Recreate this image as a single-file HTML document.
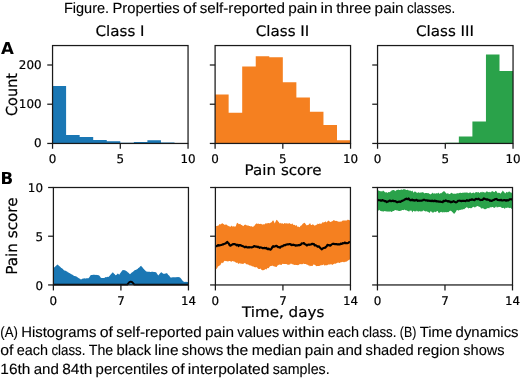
<!DOCTYPE html>
<html><head><meta charset="utf-8"><title>Figure</title>
<style>html,body{margin:0;padding:0;background:#fff}svg{display:block}text{text-rendering:geometricPrecision}</style></head>
<body>
<svg width="520" height="379" viewBox="0 0 520 379">
<rect width="520" height="379" fill="#fff"/>
<path d="M52.55,143.45 L52.55,85.99 L66.10,85.99 L66.10,135.02 L79.65,135.02 L79.65,136.98 L93.20,136.98 L93.20,140.12 L106.75,140.12 L106.75,141.29 L120.30,141.29 L120.30,142.67 L133.85,142.67 L133.85,142.08 L147.40,142.08 L147.40,140.31 L160.95,140.31 L160.95,142.47 L174.50,142.47 L174.50,143.33 L188.05,143.33 L188.05,143.45 Z" fill="#1a77b4"/>
<rect x="52.55" y="45.55" width="135.50" height="97.90" fill="none" stroke="#1a1a1a" stroke-width="1.25"/>
<line x1="52.55" y1="143.45" x2="52.55" y2="148.75" stroke="#1a1a1a" stroke-width="1.25"/>
<text x="52.55" y="162.95" font-family="DejaVu Sans, sans-serif" stroke="#000" stroke-width="0.2" font-size="11.9" text-anchor="middle" fill="#000">0</text>
<line x1="120.30" y1="143.45" x2="120.30" y2="148.75" stroke="#1a1a1a" stroke-width="1.25"/>
<text x="120.30" y="162.95" font-family="DejaVu Sans, sans-serif" stroke="#000" stroke-width="0.2" font-size="11.9" text-anchor="middle" fill="#000">5</text>
<line x1="188.05" y1="143.45" x2="188.05" y2="148.75" stroke="#1a1a1a" stroke-width="1.25"/>
<text x="188.05" y="162.95" font-family="DejaVu Sans, sans-serif" stroke="#000" stroke-width="0.2" font-size="11.9" text-anchor="middle" fill="#000">10</text>
<line x1="47.25" y1="143.45" x2="52.55" y2="143.45" stroke="#1a1a1a" stroke-width="1.25"/>
<text x="41.55" y="147.35" font-family="DejaVu Sans, sans-serif" stroke="#000" stroke-width="0.2" font-size="11.9" text-anchor="end" fill="#000">0</text>
<line x1="47.25" y1="104.22" x2="52.55" y2="104.22" stroke="#1a1a1a" stroke-width="1.25"/>
<text x="41.55" y="108.12" font-family="DejaVu Sans, sans-serif" stroke="#000" stroke-width="0.2" font-size="11.9" text-anchor="end" fill="#000">100</text>
<line x1="47.25" y1="65.00" x2="52.55" y2="65.00" stroke="#1a1a1a" stroke-width="1.25"/>
<text x="41.55" y="68.90" font-family="DejaVu Sans, sans-serif" stroke="#000" stroke-width="0.2" font-size="11.9" text-anchor="end" fill="#000">200</text>
<text transform="translate(120.00,36.4) scale(1.043,1)" font-family="DejaVu Sans, sans-serif" stroke="#000" stroke-width="0.2" font-size="14.5" text-anchor="middle" fill="#000">Class I</text>
<path d="M215.10,143.45 L215.10,94.61 L228.64,94.61 L228.64,112.66 L242.19,112.66 L242.19,66.57 L255.74,66.57 L255.74,56.37 L269.28,56.37 L269.28,57.16 L282.82,57.16 L282.82,82.26 L296.37,82.26 L296.37,97.56 L309.92,97.56 L309.92,111.68 L323.46,111.68 L323.46,125.01 L337.00,125.01 L337.00,140.31 L350.55,140.31 L350.55,143.45 Z" fill="#f58020"/>
<rect x="215.10" y="45.55" width="135.45" height="97.90" fill="none" stroke="#1a1a1a" stroke-width="1.25"/>
<line x1="215.10" y1="143.45" x2="215.10" y2="148.75" stroke="#1a1a1a" stroke-width="1.25"/>
<text x="215.10" y="162.95" font-family="DejaVu Sans, sans-serif" stroke="#000" stroke-width="0.2" font-size="11.9" text-anchor="middle" fill="#000">0</text>
<line x1="282.82" y1="143.45" x2="282.82" y2="148.75" stroke="#1a1a1a" stroke-width="1.25"/>
<text x="282.82" y="162.95" font-family="DejaVu Sans, sans-serif" stroke="#000" stroke-width="0.2" font-size="11.9" text-anchor="middle" fill="#000">5</text>
<line x1="350.55" y1="143.45" x2="350.55" y2="148.75" stroke="#1a1a1a" stroke-width="1.25"/>
<text x="350.55" y="162.95" font-family="DejaVu Sans, sans-serif" stroke="#000" stroke-width="0.2" font-size="11.9" text-anchor="middle" fill="#000">10</text>
<line x1="209.80" y1="143.45" x2="215.10" y2="143.45" stroke="#1a1a1a" stroke-width="1.25"/>
<line x1="209.80" y1="104.22" x2="215.10" y2="104.22" stroke="#1a1a1a" stroke-width="1.25"/>
<line x1="209.80" y1="65.00" x2="215.10" y2="65.00" stroke="#1a1a1a" stroke-width="1.25"/>
<text transform="translate(282.52,36.4) scale(1.043,1)" font-family="DejaVu Sans, sans-serif" stroke="#000" stroke-width="0.2" font-size="14.5" text-anchor="middle" fill="#000">Class II</text>
<path d="M377.55,143.45 L377.55,143.45 L391.10,143.45 L391.10,143.45 L404.65,143.45 L404.65,143.45 L418.20,143.45 L418.20,143.45 L431.75,143.45 L431.75,143.45 L445.30,143.45 L445.30,142.67 L458.85,142.67 L458.85,136.39 L472.40,136.39 L472.40,121.48 L485.95,121.48 L485.95,54.61 L499.50,54.61 L499.50,70.88 L513.05,70.88 L513.05,143.45 Z" fill="#2aa24a"/>
<rect x="377.55" y="45.55" width="135.50" height="97.90" fill="none" stroke="#1a1a1a" stroke-width="1.25"/>
<line x1="377.55" y1="143.45" x2="377.55" y2="148.75" stroke="#1a1a1a" stroke-width="1.25"/>
<text x="377.55" y="162.95" font-family="DejaVu Sans, sans-serif" stroke="#000" stroke-width="0.2" font-size="11.9" text-anchor="middle" fill="#000">0</text>
<line x1="445.30" y1="143.45" x2="445.30" y2="148.75" stroke="#1a1a1a" stroke-width="1.25"/>
<text x="445.30" y="162.95" font-family="DejaVu Sans, sans-serif" stroke="#000" stroke-width="0.2" font-size="11.9" text-anchor="middle" fill="#000">5</text>
<line x1="513.05" y1="143.45" x2="513.05" y2="148.75" stroke="#1a1a1a" stroke-width="1.25"/>
<text x="513.05" y="162.95" font-family="DejaVu Sans, sans-serif" stroke="#000" stroke-width="0.2" font-size="11.9" text-anchor="middle" fill="#000">10</text>
<line x1="372.25" y1="143.45" x2="377.55" y2="143.45" stroke="#1a1a1a" stroke-width="1.25"/>
<line x1="372.25" y1="104.22" x2="377.55" y2="104.22" stroke="#1a1a1a" stroke-width="1.25"/>
<line x1="372.25" y1="65.00" x2="377.55" y2="65.00" stroke="#1a1a1a" stroke-width="1.25"/>
<text transform="translate(445.00,36.4) scale(1.043,1)" font-family="DejaVu Sans, sans-serif" stroke="#000" stroke-width="0.2" font-size="14.5" text-anchor="middle" fill="#000">Class III</text>
<path d="M53.4,268.1 L54.1,267.6 L54.8,266.9 L55.5,266.3 L56.3,265.5 L57.0,265.0 L57.7,264.6 L58.4,265.3 L59.1,266.0 L59.9,266.6 L60.6,267.3 L61.3,267.9 L62.0,268.2 L62.8,269.1 L63.5,269.8 L64.2,270.5 L64.9,270.6 L65.6,270.8 L66.3,271.2 L67.1,271.6 L67.8,272.2 L68.5,272.6 L69.2,273.0 L69.9,273.3 L70.6,273.7 L71.3,274.2 L72.1,274.4 L72.8,275.1 L73.5,275.4 L74.2,275.9 L74.9,276.0 L75.6,276.2 L76.4,276.6 L77.1,277.0 L77.8,277.5 L78.5,277.9 L79.3,278.4 L80.0,278.8 L80.8,279.4 L81.6,279.3 L82.3,278.8 L83.1,278.5 L83.8,278.6 L84.4,278.3 L85.1,278.4 L85.8,278.6 L86.5,278.2 L87.2,278.3 L87.8,278.3 L88.5,278.2 L89.3,277.3 L90.0,276.2 L90.8,275.0 L91.5,275.0 L92.3,274.9 L93.0,274.8 L93.8,274.7 L94.5,274.8 L95.3,274.9 L96.0,274.8 L96.7,275.1 L97.4,275.1 L98.2,275.2 L98.9,275.3 L99.6,275.9 L100.2,276.7 L100.8,277.7 L101.5,278.1 L102.2,277.9 L102.9,278.0 L103.6,278.1 L104.3,278.0 L105.0,277.5 L105.7,277.1 L106.4,277.2 L107.1,277.1 L107.8,276.8 L108.5,277.0 L109.2,276.3 L109.9,275.4 L110.7,274.5 L111.4,273.7 L112.1,273.1 L112.8,272.2 L113.5,272.9 L114.1,273.8 L114.8,274.3 L115.4,275.3 L116.2,274.9 L116.9,274.5 L117.7,273.6 L118.5,274.1 L119.2,274.7 L120.0,273.4 L120.8,272.4 L121.5,271.5 L122.3,270.2 L123.0,270.3 L123.8,270.0 L124.6,270.2 L125.4,270.6 L126.2,270.9 L127.0,271.6 L127.7,272.3 L128.5,272.8 L129.2,273.4 L130.0,274.2 L130.8,273.5 L131.5,272.7 L132.3,272.2 L133.0,271.7 L133.8,270.9 L134.6,270.3 L135.4,270.1 L136.2,269.8 L136.9,269.2 L137.6,268.9 L138.3,268.1 L139.0,267.7 L139.7,266.9 L140.4,266.2 L141.1,265.8 L141.8,266.8 L142.6,267.6 L143.3,268.4 L144.0,269.2 L144.7,270.0 L145.5,270.8 L146.2,271.5 L146.9,271.6 L147.6,271.7 L148.2,271.7 L148.9,271.8 L149.6,271.8 L150.3,272.1 L150.9,272.0 L151.6,271.8 L152.3,271.7 L153.0,271.8 L153.7,271.9 L154.3,271.9 L155.0,271.9 L155.7,272.2 L156.3,272.6 L156.9,273.4 L157.6,274.5 L158.2,275.5 L158.9,274.7 L159.7,273.8 L160.4,273.1 L161.2,272.3 L161.8,272.6 L162.5,273.3 L163.2,273.6 L163.8,273.9 L164.6,273.7 L165.4,273.6 L166.1,273.6 L166.9,273.1 L167.6,274.0 L168.3,275.0 L169.1,275.6 L169.8,276.4 L170.5,277.4 L171.2,277.5 L171.9,277.6 L172.5,277.2 L173.2,277.2 L173.9,277.2 L174.6,277.3 L175.2,277.5 L175.9,277.0 L176.6,277.3 L177.3,277.1 L178.0,277.3 L178.6,277.1 L179.3,277.2 L180.0,277.4 L180.7,278.2 L181.4,279.0 L182.0,280.0 L182.7,280.8 L183.4,281.5 L184.1,281.8 L184.7,281.9 L185.4,281.7 L186.0,282.1 L186.7,281.8 L187.3,281.9 L188.0,281.9 L188.4,284.9 L53.4,284.9 Z" fill="#1a77b4"/>
<polyline points="53.4,284.6 127.3,284.6 128.3,283.4 129.4,282.2 130.6,281.7 131.9,282.0 133.1,283.1 134.3,284.6 188.4,284.6" fill="none" stroke="#000" stroke-width="1.9" stroke-linejoin="round"/>
<rect x="53.40" y="187.50" width="135.05" height="97.45" fill="none" stroke="#1a1a1a" stroke-width="1.25"/>
<line x1="53.40" y1="284.95" x2="53.40" y2="290.45" stroke="#1a1a1a" stroke-width="1.25"/>
<text x="53.40" y="305.10" font-family="DejaVu Sans, sans-serif" stroke="#000" stroke-width="0.2" font-size="11.9" text-anchor="middle" fill="#000">0</text>
<line x1="120.92" y1="284.95" x2="120.92" y2="290.45" stroke="#1a1a1a" stroke-width="1.25"/>
<text x="120.92" y="305.10" font-family="DejaVu Sans, sans-serif" stroke="#000" stroke-width="0.2" font-size="11.9" text-anchor="middle" fill="#000">7</text>
<line x1="188.45" y1="284.95" x2="188.45" y2="290.45" stroke="#1a1a1a" stroke-width="1.25"/>
<text x="188.45" y="305.10" font-family="DejaVu Sans, sans-serif" stroke="#000" stroke-width="0.2" font-size="11.9" text-anchor="middle" fill="#000">14</text>
<line x1="48.10" y1="284.95" x2="53.40" y2="284.95" stroke="#1a1a1a" stroke-width="1.25"/>
<text x="43.00" y="289.55" font-family="DejaVu Sans, sans-serif" stroke="#000" stroke-width="0.2" font-size="11.9" text-anchor="end" fill="#000">0</text>
<line x1="48.10" y1="236.22" x2="53.40" y2="236.22" stroke="#1a1a1a" stroke-width="1.25"/>
<text x="43.00" y="240.82" font-family="DejaVu Sans, sans-serif" stroke="#000" stroke-width="0.2" font-size="11.9" text-anchor="end" fill="#000">5</text>
<line x1="48.10" y1="187.50" x2="53.40" y2="187.50" stroke="#1a1a1a" stroke-width="1.25"/>
<text x="43.00" y="192.10" font-family="DejaVu Sans, sans-serif" stroke="#000" stroke-width="0.2" font-size="11.9" text-anchor="end" fill="#000">10</text>
<path d="M216.1,225.9 L216.8,226.0 L217.5,225.7 L218.3,225.7 L219.0,224.7 L219.7,224.0 L220.4,224.5 L221.1,224.0 L221.8,223.6 L222.6,223.2 L223.3,224.0 L224.0,224.2 L224.7,225.0 L225.4,224.5 L226.1,224.7 L226.7,224.5 L227.4,225.3 L228.1,226.3 L228.8,225.8 L229.5,226.6 L230.2,226.8 L230.9,226.4 L231.6,225.5 L232.3,226.5 L233.0,226.4 L233.7,226.2 L234.4,226.6 L235.1,226.8 L235.9,225.9 L236.7,223.6 L237.5,222.7 L238.2,223.6 L238.9,224.2 L239.6,224.0 L240.2,223.8 L240.9,224.7 L241.6,225.0 L242.3,225.3 L243.0,226.3 L243.7,225.8 L244.4,224.7 L245.0,224.9 L245.7,224.4 L246.4,225.3 L247.1,225.6 L247.8,225.4 L248.4,225.5 L249.1,226.0 L249.8,225.9 L250.5,226.4 L251.1,226.1 L251.8,226.4 L252.5,226.8 L253.2,226.9 L253.9,225.8 L254.6,225.8 L255.2,224.4 L255.9,224.0 L256.6,223.2 L257.3,224.1 L258.0,223.6 L258.7,223.8 L259.4,223.9 L260.1,223.9 L260.8,223.7 L261.5,223.9 L262.2,224.7 L262.9,224.3 L263.5,224.3 L264.2,224.5 L264.9,224.1 L265.6,223.3 L266.3,223.2 L267.0,223.8 L267.7,222.9 L268.4,222.9 L269.1,223.3 L269.7,223.2 L270.4,222.7 L271.1,222.6 L271.8,222.1 L272.4,221.1 L273.1,220.2 L273.9,221.5 L274.7,223.5 L275.3,222.2 L276.0,220.8 L276.6,219.7 L277.3,220.2 L278.1,221.5 L278.8,222.1 L279.5,223.6 L280.2,222.7 L280.9,223.5 L281.6,223.5 L282.2,222.9 L282.9,223.8 L283.6,223.9 L284.3,223.1 L285.0,223.3 L285.8,223.6 L286.5,223.3 L287.2,223.6 L288.0,223.6 L288.8,223.5 L289.5,223.1 L290.2,223.8 L290.9,224.0 L291.5,224.2 L292.2,223.2 L292.9,224.2 L293.6,225.0 L294.2,224.9 L294.9,224.8 L295.6,226.0 L296.3,225.1 L297.0,225.8 L297.6,227.1 L298.3,226.5 L299.0,227.0 L299.7,227.2 L300.4,226.1 L301.1,225.6 L301.8,225.2 L302.5,224.0 L303.2,223.4 L303.9,223.0 L304.6,222.8 L305.4,223.8 L306.1,224.7 L306.9,225.4 L307.5,224.9 L308.2,225.1 L308.8,224.6 L309.5,223.7 L310.1,223.0 L310.8,224.7 L311.4,225.0 L312.1,225.1 L312.8,223.9 L313.4,224.7 L314.1,225.3 L314.8,225.7 L315.5,225.3 L316.2,224.8 L317.0,224.7 L317.7,223.4 L318.4,224.0 L319.1,223.9 L319.8,223.3 L320.5,223.7 L321.2,224.1 L322.0,222.8 L322.7,222.3 L323.4,222.4 L324.1,222.3 L324.8,221.9 L325.5,221.3 L326.2,222.3 L327.0,222.2 L327.7,221.1 L328.4,220.4 L329.1,221.2 L329.8,221.5 L330.5,222.1 L331.2,221.9 L331.9,221.1 L332.6,221.2 L333.3,220.2 L334.0,220.3 L334.6,220.6 L335.3,221.1 L336.0,220.8 L336.7,221.0 L337.4,221.3 L338.1,221.5 L338.8,221.7 L339.5,221.7 L340.2,221.4 L340.9,221.7 L341.6,221.4 L342.3,220.8 L343.0,220.5 L343.7,220.6 L344.4,220.5 L345.1,220.6 L345.8,220.5 L346.5,220.4 L347.2,220.2 L347.9,219.6 L348.6,219.9 L349.3,220.3 L350.0,220.2 L350.0,260.3 L349.3,259.3 L348.6,260.3 L347.9,260.5 L347.2,261.3 L346.5,261.4 L345.8,262.1 L345.1,261.4 L344.4,262.2 L343.7,262.2 L343.0,261.8 L342.3,261.9 L341.6,262.3 L340.9,262.0 L340.2,262.7 L339.5,263.1 L338.8,262.7 L338.1,262.4 L337.4,262.8 L336.7,263.3 L336.0,263.2 L335.3,263.9 L334.6,263.4 L333.9,264.0 L333.1,264.3 L332.4,264.9 L331.7,264.6 L331.0,263.9 L330.3,264.6 L329.6,264.6 L328.9,264.5 L328.2,264.4 L327.5,265.1 L326.8,265.4 L326.1,265.0 L325.4,265.2 L324.7,265.8 L324.0,264.8 L323.3,264.6 L322.6,265.3 L321.9,264.7 L321.2,265.4 L320.5,265.3 L319.8,265.8 L319.1,266.0 L318.4,266.0 L317.6,266.1 L316.9,265.9 L316.2,266.3 L315.5,265.3 L314.8,265.0 L314.1,264.6 L313.4,264.6 L312.7,266.1 L312.0,265.8 L311.3,266.1 L310.6,265.8 L309.9,266.4 L309.2,265.3 L308.5,265.6 L307.8,265.1 L307.1,264.6 L306.4,264.4 L305.7,263.9 L305.0,264.0 L304.3,263.9 L303.6,263.5 L302.9,263.9 L302.2,264.2 L301.5,264.3 L300.8,264.1 L300.1,264.2 L299.4,264.3 L298.6,264.9 L297.9,265.2 L297.2,265.1 L296.5,264.9 L295.8,265.0 L295.1,264.7 L294.4,265.1 L293.6,264.8 L292.9,264.1 L292.2,264.4 L291.5,263.8 L290.8,263.5 L290.0,264.6 L289.3,264.5 L288.6,264.7 L287.9,264.7 L287.2,264.5 L286.4,263.9 L285.7,264.1 L285.0,263.9 L284.3,264.0 L283.6,264.0 L282.9,263.7 L282.2,264.1 L281.6,265.0 L280.9,264.8 L280.2,264.7 L279.5,264.5 L278.8,264.8 L278.0,265.3 L277.3,265.7 L276.6,266.9 L275.9,266.9 L275.1,266.6 L274.4,266.5 L273.7,266.2 L273.0,266.0 L272.2,265.6 L271.5,266.0 L270.8,266.1 L270.1,266.3 L269.4,267.1 L268.7,268.3 L267.9,268.1 L267.2,268.2 L266.5,269.5 L265.8,269.3 L265.1,268.9 L264.4,270.0 L263.7,270.0 L262.9,270.5 L262.2,270.1 L261.5,269.9 L260.8,268.6 L260.0,269.1 L259.3,269.0 L258.6,268.9 L257.9,268.4 L257.1,267.5 L256.4,267.1 L255.7,267.6 L255.0,267.0 L254.3,267.2 L253.5,266.6 L252.8,266.3 L252.1,266.5 L251.4,265.8 L250.7,265.6 L250.0,265.4 L249.2,265.2 L248.5,264.8 L247.8,264.2 L247.1,264.4 L246.4,264.2 L245.7,263.6 L245.0,263.3 L244.3,263.0 L243.6,263.7 L242.9,263.9 L242.2,263.7 L241.6,263.5 L240.9,264.2 L240.2,263.1 L239.5,263.2 L238.8,263.8 L238.1,263.7 L237.4,262.6 L236.7,262.9 L236.0,262.5 L235.3,262.3 L234.6,261.6 L233.9,261.7 L233.1,261.1 L232.4,261.0 L231.7,261.7 L231.0,261.5 L230.3,261.3 L229.6,260.9 L228.9,261.0 L228.2,261.4 L227.6,261.6 L226.9,261.1 L226.2,261.3 L225.5,261.1 L224.8,260.7 L224.1,261.3 L223.4,262.4 L222.7,263.2 L222.1,262.5 L221.4,262.9 L220.7,264.4 L220.0,265.4 L219.3,265.4 L218.7,266.2 L218.0,266.3 L217.4,267.7 L216.7,268.8 L216.1,269.2 Z" fill="#f58020"/>
<polyline points="216.1,246.9 216.8,246.1 217.5,245.4 218.3,245.0 219.0,245.6 219.7,245.3 220.4,245.2 221.1,245.0 221.8,244.9 222.6,244.4 223.3,244.4 224.0,243.9 224.6,243.7 225.3,243.5 225.9,243.2 226.6,242.6 227.2,241.9 228.0,242.8 228.8,243.5 229.5,244.9 230.3,245.7 231.0,245.3 231.7,244.8 232.4,244.5 233.0,244.1 233.7,244.0 234.4,244.1 235.1,244.2 235.8,244.5 236.5,245.3 237.2,244.8 237.9,244.9 238.6,246.0 239.3,245.0 240.0,245.0 240.7,245.4 241.4,245.6 242.1,246.0 242.8,246.1 243.5,246.5 244.2,246.8 245.0,247.3 245.7,246.7 246.4,246.9 247.1,247.4 247.8,247.5 248.5,247.2 249.2,247.5 249.9,247.2 250.6,247.3 251.3,247.4 252.0,247.2 252.7,247.1 253.4,246.7 254.1,246.0 254.8,246.3 255.5,246.6 256.1,246.5 256.8,246.6 257.5,247.1 258.2,246.8 258.9,247.2 259.5,247.9 260.2,247.4 260.9,247.5 261.6,247.5 262.2,248.1 262.9,248.0 263.6,248.2 264.3,247.9 265.0,248.1 265.7,248.3 266.4,247.8 267.1,248.8 267.9,249.2 268.6,248.6 269.3,249.3 270.0,249.4 270.7,249.7 271.5,248.7 272.3,247.1 273.1,246.1 273.8,246.8 274.5,246.5 275.2,246.2 275.9,245.9 276.6,245.8 277.2,246.3 277.9,247.1 278.6,247.1 279.3,247.1 280.0,247.7 280.7,246.9 281.4,246.4 282.0,246.4 282.7,246.3 283.4,245.6 284.1,245.1 284.8,245.3 285.4,245.2 286.1,244.6 286.8,244.5 287.5,244.3 288.1,244.4 288.8,244.2 289.5,244.0 290.2,244.0 290.9,244.6 291.5,245.1 292.2,244.8 292.9,245.1 293.6,244.7 294.2,244.9 294.9,245.2 295.6,245.7 296.3,245.4 297.0,245.4 297.6,245.5 298.3,245.0 299.0,245.4 299.7,244.9 300.4,244.9 301.1,244.2 301.7,243.4 302.4,243.5 303.1,243.4 303.8,243.0 304.6,244.0 305.4,244.4 306.1,244.8 306.9,245.6 307.6,244.9 308.3,244.6 309.0,244.6 309.7,244.8 310.5,244.5 311.2,244.4 311.9,243.9 312.6,243.8 313.3,244.2 314.0,244.1 314.7,245.4 315.5,245.2 316.2,245.5 316.9,246.0 317.6,246.7 318.3,246.5 319.0,246.3 319.8,247.4 320.5,248.2 321.2,248.8 321.9,249.3 322.6,248.6 323.3,248.1 324.0,248.0 324.7,247.6 325.4,247.7 326.1,246.6 326.8,246.2 327.4,244.8 328.1,245.3 328.8,245.1 329.5,245.3 330.2,245.7 330.9,245.1 331.6,244.5 332.3,244.0 333.0,243.8 333.7,243.7 334.5,244.1 335.2,244.1 335.9,244.1 336.6,244.1 337.3,244.4 338.0,244.4 338.8,244.2 339.5,244.4 340.2,244.2 340.8,243.5 341.5,244.0 342.1,243.8 342.8,243.1 343.4,243.3 344.1,243.2 344.9,242.5 345.6,243.2 346.3,243.1 347.1,243.2 347.8,243.0 348.5,242.7 349.3,242.1 350.0,242.6" fill="none" stroke="#000" stroke-width="2.15" stroke-linejoin="round"/>
<rect x="215.40" y="187.50" width="135.05" height="97.45" fill="none" stroke="#1a1a1a" stroke-width="1.25"/>
<line x1="215.40" y1="284.95" x2="215.40" y2="290.45" stroke="#1a1a1a" stroke-width="1.25"/>
<text x="215.40" y="305.10" font-family="DejaVu Sans, sans-serif" stroke="#000" stroke-width="0.2" font-size="11.9" text-anchor="middle" fill="#000">0</text>
<line x1="282.93" y1="284.95" x2="282.93" y2="290.45" stroke="#1a1a1a" stroke-width="1.25"/>
<text x="282.93" y="305.10" font-family="DejaVu Sans, sans-serif" stroke="#000" stroke-width="0.2" font-size="11.9" text-anchor="middle" fill="#000">7</text>
<line x1="350.45" y1="284.95" x2="350.45" y2="290.45" stroke="#1a1a1a" stroke-width="1.25"/>
<text x="350.45" y="305.10" font-family="DejaVu Sans, sans-serif" stroke="#000" stroke-width="0.2" font-size="11.9" text-anchor="middle" fill="#000">14</text>
<line x1="210.10" y1="284.95" x2="215.40" y2="284.95" stroke="#1a1a1a" stroke-width="1.25"/>
<line x1="210.10" y1="236.22" x2="215.40" y2="236.22" stroke="#1a1a1a" stroke-width="1.25"/>
<line x1="210.10" y1="187.50" x2="215.40" y2="187.50" stroke="#1a1a1a" stroke-width="1.25"/>
<path d="M378.0,190.6 L378.7,190.6 L379.4,191.0 L380.1,191.1 L380.9,191.5 L381.6,191.3 L382.3,191.5 L383.0,190.6 L383.7,191.0 L384.5,191.8 L385.2,192.6 L385.9,192.3 L386.7,192.3 L387.4,193.1 L388.1,192.3 L388.9,192.1 L389.6,192.2 L390.3,191.4 L391.1,191.3 L391.8,190.2 L392.5,190.2 L393.2,190.0 L393.9,190.0 L394.6,190.5 L395.3,191.3 L396.0,190.4 L396.8,189.9 L397.5,190.1 L398.2,189.5 L398.9,189.9 L399.6,190.1 L400.3,189.8 L401.0,190.1 L401.7,189.3 L402.4,189.9 L403.2,189.2 L403.9,189.2 L404.6,189.3 L405.4,189.4 L406.1,190.0 L406.8,190.0 L407.5,189.8 L408.2,190.1 L409.0,190.8 L409.7,190.4 L410.4,190.6 L411.1,191.2 L411.7,191.2 L412.4,190.6 L413.1,192.0 L413.8,192.8 L414.5,191.4 L415.2,191.6 L415.8,192.0 L416.5,192.6 L417.2,192.9 L417.9,192.6 L418.5,192.2 L419.2,192.5 L419.9,193.1 L420.6,192.6 L421.2,192.3 L421.9,192.7 L422.6,192.1 L423.3,192.6 L423.9,192.8 L424.6,193.4 L425.3,193.1 L425.9,192.9 L426.6,193.0 L427.3,193.2 L428.0,193.0 L428.6,193.2 L429.3,193.7 L430.0,194.1 L430.7,194.6 L431.3,193.8 L432.0,193.5 L432.7,192.4 L433.4,193.7 L434.1,193.3 L434.8,193.4 L435.5,193.7 L436.2,193.0 L436.8,193.4 L437.5,193.4 L438.2,192.6 L438.9,193.2 L439.6,193.9 L440.3,192.9 L441.0,193.5 L441.8,192.8 L442.5,192.3 L443.2,191.6 L444.0,191.3 L444.7,191.6 L445.4,192.6 L446.1,192.9 L446.8,193.9 L447.5,193.3 L448.2,193.3 L448.9,194.2 L449.6,194.0 L450.3,193.7 L451.0,193.0 L451.6,192.8 L452.3,193.2 L453.0,193.7 L453.7,193.7 L454.4,193.8 L455.1,193.5 L455.8,194.0 L456.5,193.5 L457.2,193.1 L457.9,193.5 L458.6,193.3 L459.3,193.1 L460.0,192.8 L460.7,192.7 L461.4,193.1 L462.1,193.1 L462.9,192.4 L463.6,192.8 L464.3,192.8 L465.0,192.3 L465.7,192.8 L466.4,192.6 L467.1,192.4 L467.8,192.8 L468.5,193.2 L469.2,192.6 L469.9,192.7 L470.6,192.2 L471.4,193.4 L472.1,192.7 L472.8,193.1 L473.5,192.5 L474.2,192.8 L474.9,193.6 L475.6,191.9 L476.4,191.9 L477.1,192.4 L477.8,192.3 L478.5,192.0 L479.2,193.1 L479.9,192.8 L480.6,191.9 L481.3,192.5 L482.1,191.6 L482.8,192.4 L483.5,192.1 L484.2,192.3 L484.9,192.8 L485.6,192.6 L486.3,191.7 L487.0,191.1 L487.7,192.0 L488.4,192.3 L489.1,191.8 L489.8,192.2 L490.5,192.3 L491.2,192.3 L491.9,191.0 L492.6,191.2 L493.3,191.8 L494.0,192.0 L494.7,192.2 L495.4,190.8 L496.1,191.2 L496.9,191.8 L497.6,193.3 L498.4,192.7 L499.1,192.7 L499.9,193.1 L500.6,193.8 L501.3,192.5 L502.0,192.1 L502.7,190.5 L503.5,191.6 L504.3,192.3 L505.1,193.4 L505.9,192.7 L506.6,191.8 L507.4,192.4 L508.1,192.2 L508.9,191.6 L509.6,191.4 L510.2,192.4 L510.9,192.3 L511.6,192.8 L512.2,193.7 L512.2,208.9 L511.5,208.8 L510.8,208.0 L510.1,207.8 L509.4,208.2 L508.7,207.8 L507.9,207.6 L507.2,207.8 L506.5,207.9 L505.8,207.6 L505.1,208.4 L504.4,208.7 L503.7,207.8 L503.0,208.1 L502.3,207.9 L501.6,207.7 L500.9,207.3 L500.3,206.8 L499.6,207.1 L498.9,206.8 L498.2,207.2 L497.5,207.3 L496.8,207.4 L496.1,206.2 L495.4,207.3 L494.7,207.7 L494.0,207.9 L493.3,207.2 L492.6,206.9 L491.9,207.0 L491.2,207.4 L490.5,207.3 L489.8,207.3 L489.1,208.4 L488.4,208.1 L487.7,208.1 L487.0,208.5 L486.3,208.7 L485.6,209.2 L484.9,209.1 L484.2,209.3 L483.5,208.4 L482.9,208.1 L482.2,208.5 L481.5,208.6 L480.9,208.3 L480.2,207.1 L479.5,206.8 L478.9,207.0 L478.2,205.9 L477.5,206.1 L476.8,206.4 L476.1,206.6 L475.4,207.2 L474.7,207.5 L474.0,207.0 L473.3,206.7 L472.6,207.1 L471.9,208.2 L471.2,208.1 L470.5,208.2 L469.8,208.0 L469.1,208.1 L468.4,208.6 L467.7,208.0 L467.0,207.1 L466.3,207.4 L465.6,208.0 L464.9,208.4 L464.2,209.3 L463.6,209.1 L462.9,209.5 L462.2,209.6 L461.5,209.6 L460.8,210.0 L460.1,209.8 L459.5,210.1 L458.8,210.5 L458.1,210.4 L457.4,210.1 L456.6,210.3 L455.9,211.8 L455.1,212.7 L454.4,213.8 L453.6,213.4 L452.9,212.6 L452.1,211.9 L451.4,211.1 L450.7,210.8 L450.0,210.7 L449.3,211.2 L448.7,211.9 L448.0,212.3 L447.3,212.1 L446.6,212.2 L445.9,212.3 L445.2,212.1 L444.6,212.6 L443.9,211.8 L443.2,212.4 L442.5,212.6 L441.8,211.8 L441.1,212.2 L440.4,212.0 L439.7,212.4 L439.1,213.2 L438.4,212.6 L437.7,211.0 L437.0,211.0 L436.3,211.7 L435.6,212.2 L434.9,211.6 L434.2,212.0 L433.6,212.6 L432.9,212.6 L432.2,212.4 L431.5,211.7 L430.8,211.0 L430.1,211.9 L429.4,212.9 L428.7,212.2 L428.0,211.7 L427.4,211.7 L426.7,211.3 L426.0,211.2 L425.3,211.6 L424.6,211.1 L423.9,210.8 L423.2,210.3 L422.5,211.2 L421.8,211.4 L421.1,211.2 L420.3,211.5 L419.6,211.1 L418.9,211.4 L418.2,211.5 L417.5,211.2 L416.8,210.5 L416.1,211.5 L415.4,211.3 L414.7,211.4 L414.0,211.1 L413.2,210.8 L412.5,212.4 L411.8,211.2 L411.1,210.2 L410.4,210.8 L409.7,210.6 L409.0,212.1 L408.4,211.0 L407.7,211.0 L407.0,210.5 L406.3,210.2 L405.7,210.3 L405.0,210.0 L404.3,209.6 L403.6,210.2 L403.0,210.1 L402.3,210.1 L401.6,210.4 L400.9,210.5 L400.3,211.0 L399.6,211.1 L398.9,210.9 L398.2,210.8 L397.5,210.4 L396.8,210.3 L396.2,210.4 L395.5,210.1 L394.8,210.0 L394.1,211.0 L393.4,211.0 L392.8,211.1 L392.1,211.7 L391.4,212.0 L390.7,211.4 L390.0,211.2 L389.3,211.7 L388.7,211.3 L388.0,211.9 L387.3,211.3 L386.6,211.4 L385.9,211.3 L385.2,211.2 L384.4,211.1 L383.7,211.4 L383.0,211.4 L382.3,211.2 L381.6,211.2 L380.9,211.1 L380.1,210.8 L379.4,209.7 L378.7,210.5 L378.0,210.6 Z" fill="#2aa24a"/>
<polyline points="378.0,199.9 378.7,200.1 379.4,200.2 380.2,200.3 380.9,200.7 381.6,200.7 382.3,200.0 383.0,200.4 383.8,200.5 384.5,201.1 385.2,201.0 385.9,201.3 386.6,202.2 387.4,201.7 388.1,201.4 388.8,201.2 389.5,200.6 390.2,200.5 390.9,201.1 391.6,201.1 392.3,200.7 393.0,200.6 393.7,201.2 394.4,201.0 395.0,201.1 395.7,201.3 396.4,201.8 397.1,202.2 397.8,202.1 398.5,201.7 399.2,201.5 399.9,201.9 400.6,201.9 401.3,201.1 402.1,200.9 402.8,200.6 403.5,200.3 404.2,199.9 405.0,199.3 405.7,199.1 406.4,198.6 407.2,199.2 407.9,199.2 408.6,198.5 409.4,199.6 410.2,200.3 411.0,199.9 411.8,200.1 412.5,199.6 413.3,200.5 414.1,200.0 414.9,200.6 415.7,200.2 416.5,199.8 417.1,200.2 417.8,200.9 418.4,200.5 419.1,200.6 419.7,200.8 420.4,200.7 421.0,200.5 421.6,200.6 422.3,200.5 423.0,200.2 423.6,199.7 424.3,199.7 425.1,200.2 425.8,200.5 426.5,200.4 427.2,200.3 428.0,200.9 428.7,200.5 429.4,200.8 430.1,201.1 430.9,200.8 431.6,201.1 432.3,200.6 433.0,201.1 433.7,201.2 434.4,200.6 435.1,201.1 435.8,200.9 436.5,201.5 437.1,201.3 437.8,201.3 438.5,201.6 439.2,201.5 439.9,201.7 440.6,201.6 441.3,202.0 442.0,202.0 442.7,202.1 443.5,200.8 444.2,201.2 445.0,201.0 445.7,200.4 446.4,200.8 447.2,201.1 447.9,201.5 448.6,201.0 449.3,201.7 450.0,201.5 450.8,202.3 451.5,201.8 452.2,201.9 452.9,201.6 453.6,201.2 454.4,201.7 455.1,202.0 455.8,202.4 456.5,202.3 457.2,201.7 457.9,200.9 458.6,200.8 459.3,200.7 459.9,200.6 460.6,201.0 461.3,201.1 462.0,200.9 462.7,200.9 463.4,200.8 464.1,200.8 464.8,201.0 465.5,201.1 466.2,200.6 466.9,200.0 467.6,200.6 468.2,200.5 468.9,200.8 469.6,199.9 470.3,199.9 471.0,199.9 471.7,199.4 472.4,199.4 473.1,199.7 473.8,200.0 474.5,200.2 475.2,199.4 475.9,198.8 476.6,199.0 477.3,199.2 478.0,199.0 478.6,198.7 479.3,199.4 479.9,199.8 480.6,200.1 481.2,200.0 481.8,199.9 482.5,199.9 483.1,199.3 483.8,198.4 484.4,198.6 485.1,199.0 485.8,199.2 486.5,199.6 487.2,199.4 487.9,199.6 488.6,199.7 489.3,200.1 490.0,200.8 490.7,200.6 491.4,200.9 492.0,200.8 492.7,200.4 493.4,200.0 494.0,200.0 494.7,199.3 495.4,199.2 496.1,198.9 496.9,199.3 497.6,199.9 498.3,200.0 499.0,200.1 499.8,200.1 500.5,200.2 501.2,199.8 501.9,200.5 502.7,200.5 503.4,200.3 504.1,200.1 504.8,200.0 505.5,200.4 506.2,200.7 506.9,200.0 507.6,200.4 508.2,200.5 508.9,200.0 509.6,199.4 510.3,199.3 511.0,199.2 511.7,199.5 512.4,199.4" fill="none" stroke="#000" stroke-width="2.15" stroke-linejoin="round"/>
<rect x="377.45" y="187.50" width="135.05" height="97.45" fill="none" stroke="#1a1a1a" stroke-width="1.25"/>
<line x1="377.45" y1="284.95" x2="377.45" y2="290.45" stroke="#1a1a1a" stroke-width="1.25"/>
<text x="377.45" y="305.10" font-family="DejaVu Sans, sans-serif" stroke="#000" stroke-width="0.2" font-size="11.9" text-anchor="middle" fill="#000">0</text>
<line x1="444.98" y1="284.95" x2="444.98" y2="290.45" stroke="#1a1a1a" stroke-width="1.25"/>
<text x="444.98" y="305.10" font-family="DejaVu Sans, sans-serif" stroke="#000" stroke-width="0.2" font-size="11.9" text-anchor="middle" fill="#000">7</text>
<line x1="512.50" y1="284.95" x2="512.50" y2="290.45" stroke="#1a1a1a" stroke-width="1.25"/>
<text x="512.50" y="305.10" font-family="DejaVu Sans, sans-serif" stroke="#000" stroke-width="0.2" font-size="11.9" text-anchor="middle" fill="#000">14</text>
<line x1="372.15" y1="284.95" x2="377.45" y2="284.95" stroke="#1a1a1a" stroke-width="1.25"/>
<line x1="372.15" y1="236.22" x2="377.45" y2="236.22" stroke="#1a1a1a" stroke-width="1.25"/>
<line x1="372.15" y1="187.50" x2="377.45" y2="187.50" stroke="#1a1a1a" stroke-width="1.25"/>
<text transform="translate(17.0,94.5) rotate(-90) scale(1,1.043)" font-family="DejaVu Sans, sans-serif" stroke="#000" stroke-width="0.2" font-size="14.5" text-anchor="middle" fill="#000">Count</text>
<text transform="translate(17.2,236.1) rotate(-90) scale(1.048,1.043)" font-family="DejaVu Sans, sans-serif" stroke="#000" stroke-width="0.2" font-size="14.5" text-anchor="middle" fill="#000">Pain score</text>
<text transform="translate(283.1,174.9) scale(1.043,1)" font-family="DejaVu Sans, sans-serif" stroke="#000" stroke-width="0.2" font-size="14.5" text-anchor="middle" fill="#000">Pain score</text>
<text transform="translate(283.1,316.85) scale(1.043,1)" font-family="DejaVu Sans, sans-serif" stroke="#000" stroke-width="0.2" font-size="14.5" text-anchor="middle" fill="#000">Time, days</text>
<text x="1.0" y="53.6" font-family="DejaVu Sans, sans-serif" font-size="16.6" font-weight="bold" fill="#000">A</text>
<text x="0.5" y="184.4" font-family="DejaVu Sans, sans-serif" font-size="16.6" font-weight="bold" fill="#000">B</text>
<text y="13.0" font-family="Liberation Sans, sans-serif" stroke="#000" stroke-width="0.12" font-size="14.8" fill="#000"><tspan x="63.90" textLength="45.20" lengthAdjust="spacingAndGlyphs">Figure.</tspan> <tspan x="112.44" textLength="67.29" lengthAdjust="spacingAndGlyphs">Properties</tspan> <tspan x="183.07" textLength="13.26" lengthAdjust="spacingAndGlyphs">of</tspan> <tspan x="199.68" textLength="85.17" lengthAdjust="spacingAndGlyphs">self-reported</tspan> <tspan x="288.20" textLength="29.02" lengthAdjust="spacingAndGlyphs">pain</tspan> <tspan x="320.56" textLength="12.44" lengthAdjust="spacingAndGlyphs">in</tspan> <tspan x="336.34" textLength="34.93" lengthAdjust="spacingAndGlyphs">three</tspan> <tspan x="374.62" textLength="29.02" lengthAdjust="spacingAndGlyphs">pain</tspan> <tspan x="406.98" textLength="48.29" lengthAdjust="spacingAndGlyphs">classes.</tspan></text>
<text y="336.5" font-family="Liberation Sans, sans-serif" stroke="#000" stroke-width="0.12" font-size="14.8" fill="#000"><tspan x="0.30" textLength="17.56" lengthAdjust="spacingAndGlyphs">(A)</tspan> <tspan x="21.21" textLength="75.16" lengthAdjust="spacingAndGlyphs">Histograms</tspan> <tspan x="99.71" textLength="13.28" lengthAdjust="spacingAndGlyphs">of</tspan> <tspan x="116.34" textLength="85.28" lengthAdjust="spacingAndGlyphs">self-reported</tspan> <tspan x="204.97" textLength="29.05" lengthAdjust="spacingAndGlyphs">pain</tspan> <tspan x="237.37" textLength="41.80" lengthAdjust="spacingAndGlyphs">values</tspan> <tspan x="282.51" textLength="41.76" lengthAdjust="spacingAndGlyphs">within</tspan> <tspan x="327.63" textLength="31.36" lengthAdjust="spacingAndGlyphs">each</tspan> <tspan x="362.33" textLength="34.19" lengthAdjust="spacingAndGlyphs">class.</tspan> <tspan x="399.87" textLength="16.45" lengthAdjust="spacingAndGlyphs">(B)</tspan> <tspan x="419.67" textLength="32.62" lengthAdjust="spacingAndGlyphs">Time</tspan> <tspan x="455.64" textLength="62.91" lengthAdjust="spacingAndGlyphs">dynamics</tspan></text>
<text y="355.4" font-family="Liberation Sans, sans-serif" stroke="#000" stroke-width="0.12" font-size="14.8" fill="#000"><tspan x="0.30" textLength="13.22" lengthAdjust="spacingAndGlyphs">of</tspan> <tspan x="16.85" textLength="31.22" lengthAdjust="spacingAndGlyphs">each</tspan> <tspan x="51.41" textLength="34.03" lengthAdjust="spacingAndGlyphs">class.</tspan> <tspan x="88.77" textLength="24.41" lengthAdjust="spacingAndGlyphs">The</tspan> <tspan x="116.52" textLength="34.65" lengthAdjust="spacingAndGlyphs">black</tspan> <tspan x="154.50" textLength="23.99" lengthAdjust="spacingAndGlyphs">line</tspan> <tspan x="181.82" textLength="41.38" lengthAdjust="spacingAndGlyphs">shows</tspan> <tspan x="226.53" textLength="21.80" lengthAdjust="spacingAndGlyphs">the</tspan> <tspan x="251.66" textLength="49.83" lengthAdjust="spacingAndGlyphs">median</tspan> <tspan x="304.83" textLength="28.92" lengthAdjust="spacingAndGlyphs">pain</tspan> <tspan x="337.09" textLength="25.17" lengthAdjust="spacingAndGlyphs">and</tspan> <tspan x="365.59" textLength="48.13" lengthAdjust="spacingAndGlyphs">shaded</tspan> <tspan x="417.05" textLength="42.84" lengthAdjust="spacingAndGlyphs">region</tspan> <tspan x="463.22" textLength="41.38" lengthAdjust="spacingAndGlyphs">shows</tspan></text>
<text y="374.3" font-family="Liberation Sans, sans-serif" stroke="#000" stroke-width="0.12" font-size="14.8" fill="#000"><tspan x="0.30" textLength="30.08" lengthAdjust="spacingAndGlyphs">16th</tspan> <tspan x="33.71" textLength="25.18" lengthAdjust="spacingAndGlyphs">and</tspan> <tspan x="62.23" textLength="30.08" lengthAdjust="spacingAndGlyphs">84th</tspan> <tspan x="95.64" textLength="72.34" lengthAdjust="spacingAndGlyphs">percentiles</tspan> <tspan x="171.32" textLength="13.23" lengthAdjust="spacingAndGlyphs">of</tspan> <tspan x="187.88" textLength="81.48" lengthAdjust="spacingAndGlyphs">interpolated</tspan> <tspan x="272.70" textLength="56.96" lengthAdjust="spacingAndGlyphs">samples.</tspan></text>
</svg>
</body></html>
